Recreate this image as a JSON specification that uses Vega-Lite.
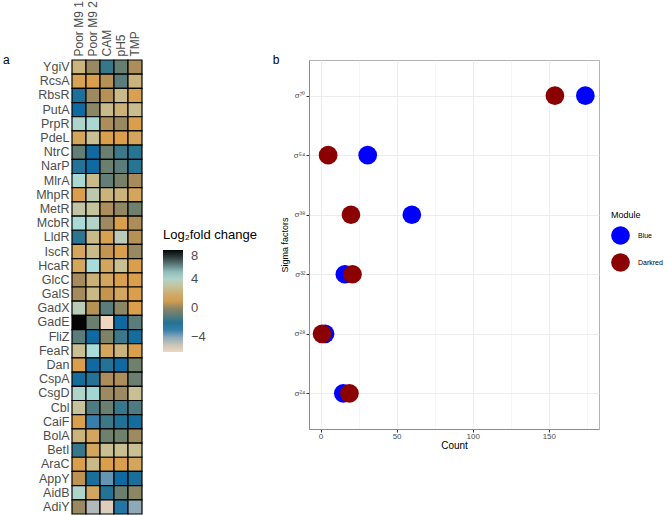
{
  "$schema": "https://vega.github.io/schema/vega-lite/v6.json",
  "padding": {"left": 2, "top": 0, "right": 2, "bottom": 0},
  "background": "white",
  "config": {"font": "Liberation Sans", "legend": {"labelFont": "Liberation Sans"}},
  "bounds": "flush",
  "spacing": 167,
  "resolve": {"scale": {"color": "independent"}, "legend": {"color": "independent"}},
  "datasets": {
    "heat": [
      {"tf":"YgiV","cond":"Poor M9 1","value":2.3},{"tf":"YgiV","cond":"Poor M9 2","value":0.2},{"tf":"YgiV","cond":"CAM","value":-1.6},{"tf":"YgiV","cond":"pH5","value":-0.7},{"tf":"YgiV","cond":"TMP","value":0.5},
      {"tf":"RcsA","cond":"Poor M9 1","value":1.3},{"tf":"RcsA","cond":"Poor M9 2","value":1.1},{"tf":"RcsA","cond":"CAM","value":0.6},{"tf":"RcsA","cond":"pH5","value":-1.0},{"tf":"RcsA","cond":"TMP","value":2.3},
      {"tf":"RbsR","cond":"Poor M9 1","value":-2.2},{"tf":"RbsR","cond":"Poor M9 2","value":0.3},{"tf":"RbsR","cond":"CAM","value":0.6},{"tf":"RbsR","cond":"pH5","value":2.6},{"tf":"RbsR","cond":"TMP","value":1.2},
      {"tf":"PutA","cond":"Poor M9 1","value":-2.6},{"tf":"PutA","cond":"Poor M9 2","value":0.0},{"tf":"PutA","cond":"CAM","value":2.6},{"tf":"PutA","cond":"pH5","value":2.2},{"tf":"PutA","cond":"TMP","value":2.7},
      {"tf":"PrpR","cond":"Poor M9 1","value":4.1},{"tf":"PrpR","cond":"Poor M9 2","value":4.3},{"tf":"PrpR","cond":"CAM","value":0.5},{"tf":"PrpR","cond":"pH5","value":0.2},{"tf":"PrpR","cond":"TMP","value":1.1},
      {"tf":"PdeL","cond":"Poor M9 1","value":1.5},{"tf":"PdeL","cond":"Poor M9 2","value":2.8},{"tf":"PdeL","cond":"CAM","value":1.1},{"tf":"PdeL","cond":"pH5","value":1.1},{"tf":"PdeL","cond":"TMP","value":1.5},
      {"tf":"NtrC","cond":"Poor M9 1","value":-0.8},{"tf":"NtrC","cond":"Poor M9 2","value":-2.6},{"tf":"NtrC","cond":"CAM","value":-0.6},{"tf":"NtrC","cond":"pH5","value":-1.5},{"tf":"NtrC","cond":"TMP","value":-1.9},
      {"tf":"NarP","cond":"Poor M9 1","value":-2.0},{"tf":"NarP","cond":"Poor M9 2","value":-2.6},{"tf":"NarP","cond":"CAM","value":-0.6},{"tf":"NarP","cond":"pH5","value":-1.0},{"tf":"NarP","cond":"TMP","value":-1.9},
      {"tf":"MlrA","cond":"Poor M9 1","value":4.3},{"tf":"MlrA","cond":"Poor M9 2","value":2.6},{"tf":"MlrA","cond":"CAM","value":-0.8},{"tf":"MlrA","cond":"pH5","value":-0.3},{"tf":"MlrA","cond":"TMP","value":0.4},
      {"tf":"MhpR","cond":"Poor M9 1","value":1.1},{"tf":"MhpR","cond":"Poor M9 2","value":3.4},{"tf":"MhpR","cond":"CAM","value":2.3},{"tf":"MhpR","cond":"pH5","value":2.3},{"tf":"MhpR","cond":"TMP","value":1.5},
      {"tf":"MetR","cond":"Poor M9 1","value":3.2},{"tf":"MetR","cond":"Poor M9 2","value":3.0},{"tf":"MetR","cond":"CAM","value":0.5},{"tf":"MetR","cond":"pH5","value":0.1},{"tf":"MetR","cond":"TMP","value":-0.5},
      {"tf":"McbR","cond":"Poor M9 1","value":4.4},{"tf":"McbR","cond":"Poor M9 2","value":4.0},{"tf":"McbR","cond":"CAM","value":0.3},{"tf":"McbR","cond":"pH5","value":1.1},{"tf":"McbR","cond":"TMP","value":0.5},
      {"tf":"LldR","cond":"Poor M9 1","value":-1.8},{"tf":"LldR","cond":"Poor M9 2","value":2.6},{"tf":"LldR","cond":"CAM","value":1.2},{"tf":"LldR","cond":"pH5","value":3.6},{"tf":"LldR","cond":"TMP","value":0.6},
      {"tf":"IscR","cond":"Poor M9 1","value":1.5},{"tf":"IscR","cond":"Poor M9 2","value":2.6},{"tf":"IscR","cond":"CAM","value":0.8},{"tf":"IscR","cond":"pH5","value":1.1},{"tf":"IscR","cond":"TMP","value":0.2},
      {"tf":"HcaR","cond":"Poor M9 1","value":1.5},{"tf":"HcaR","cond":"Poor M9 2","value":4.5},{"tf":"HcaR","cond":"CAM","value":1.6},{"tf":"HcaR","cond":"pH5","value":2.8},{"tf":"HcaR","cond":"TMP","value":1.1},
      {"tf":"GlcC","cond":"Poor M9 1","value":0.4},{"tf":"GlcC","cond":"Poor M9 2","value":2.2},{"tf":"GlcC","cond":"CAM","value":1.6},{"tf":"GlcC","cond":"pH5","value":1.1},{"tf":"GlcC","cond":"TMP","value":1.1},
      {"tf":"GalS","cond":"Poor M9 1","value":0.4},{"tf":"GalS","cond":"Poor M9 2","value":2.5},{"tf":"GalS","cond":"CAM","value":0.8},{"tf":"GalS","cond":"pH5","value":1.6},{"tf":"GalS","cond":"TMP","value":1.1},
      {"tf":"GadX","cond":"Poor M9 1","value":3.6},{"tf":"GadX","cond":"Poor M9 2","value":0.6},{"tf":"GadX","cond":"CAM","value":-1.0},{"tf":"GadX","cond":"pH5","value":0.0},{"tf":"GadX","cond":"TMP","value":1.1},
      {"tf":"GadE","cond":"Poor M9 1","value":8.0},{"tf":"GadE","cond":"Poor M9 2","value":-0.6},{"tf":"GadE","cond":"CAM","value":-6.0},{"tf":"GadE","cond":"pH5","value":-2.6},{"tf":"GadE","cond":"TMP","value":-1.0},
      {"tf":"FliZ","cond":"Poor M9 1","value":-1.0},{"tf":"FliZ","cond":"Poor M9 2","value":-2.6},{"tf":"FliZ","cond":"CAM","value":-0.2},{"tf":"FliZ","cond":"pH5","value":-1.5},{"tf":"FliZ","cond":"TMP","value":-2.4},
      {"tf":"FeaR","cond":"Poor M9 1","value":2.8},{"tf":"FeaR","cond":"Poor M9 2","value":4.5},{"tf":"FeaR","cond":"CAM","value":1.5},{"tf":"FeaR","cond":"pH5","value":2.3},{"tf":"FeaR","cond":"TMP","value":1.1},
      {"tf":"Dan","cond":"Poor M9 1","value":1.1},{"tf":"Dan","cond":"Poor M9 2","value":-2.6},{"tf":"Dan","cond":"CAM","value":-2.0},{"tf":"Dan","cond":"pH5","value":-2.6},{"tf":"Dan","cond":"TMP","value":-0.5},
      {"tf":"CspA","cond":"Poor M9 1","value":-2.4},{"tf":"CspA","cond":"Poor M9 2","value":-2.0},{"tf":"CspA","cond":"CAM","value":0.5},{"tf":"CspA","cond":"pH5","value":0.5},{"tf":"CspA","cond":"TMP","value":-0.6},
      {"tf":"CsgD","cond":"Poor M9 1","value":4.1},{"tf":"CsgD","cond":"Poor M9 2","value":4.6},{"tf":"CsgD","cond":"CAM","value":0.3},{"tf":"CsgD","cond":"pH5","value":0.3},{"tf":"CsgD","cond":"TMP","value":2.8},
      {"tf":"Cbl","cond":"Poor M9 1","value":3.0},{"tf":"Cbl","cond":"Poor M9 2","value":-1.2},{"tf":"Cbl","cond":"CAM","value":-0.6},{"tf":"Cbl","cond":"pH5","value":-1.6},{"tf":"Cbl","cond":"TMP","value":-1.2},
      {"tf":"CaiF","cond":"Poor M9 1","value":1.1},{"tf":"CaiF","cond":"Poor M9 2","value":-3.0},{"tf":"CaiF","cond":"CAM","value":-1.5},{"tf":"CaiF","cond":"pH5","value":-2.1},{"tf":"CaiF","cond":"TMP","value":-2.4},
      {"tf":"BolA","cond":"Poor M9 1","value":2.3},{"tf":"BolA","cond":"Poor M9 2","value":1.5},{"tf":"BolA","cond":"CAM","value":-0.5},{"tf":"BolA","cond":"pH5","value":-0.5},{"tf":"BolA","cond":"TMP","value":0.3},
      {"tf":"BetI","cond":"Poor M9 1","value":-1.6},{"tf":"BetI","cond":"Poor M9 2","value":1.5},{"tf":"BetI","cond":"CAM","value":2.8},{"tf":"BetI","cond":"pH5","value":2.8},{"tf":"BetI","cond":"TMP","value":2.8},
      {"tf":"AraC","cond":"Poor M9 1","value":1.1},{"tf":"AraC","cond":"Poor M9 2","value":2.5},{"tf":"AraC","cond":"CAM","value":1.1},{"tf":"AraC","cond":"pH5","value":1.1},{"tf":"AraC","cond":"TMP","value":1.5},
      {"tf":"AppY","cond":"Poor M9 1","value":0.7},{"tf":"AppY","cond":"Poor M9 2","value":-2.3},{"tf":"AppY","cond":"CAM","value":-3.5},{"tf":"AppY","cond":"pH5","value":-2.6},{"tf":"AppY","cond":"TMP","value":-2.3},
      {"tf":"AidB","cond":"Poor M9 1","value":4.1},{"tf":"AidB","cond":"Poor M9 2","value":1.6},{"tf":"AidB","cond":"CAM","value":-2.0},{"tf":"AidB","cond":"pH5","value":-0.6},{"tf":"AidB","cond":"TMP","value":0.0},
      {"tf":"AdiY","cond":"Poor M9 1","value":0.2},{"tf":"AdiY","cond":"Poor M9 2","value":-4.6},{"tf":"AdiY","cond":"CAM","value":-5.5},{"tf":"AdiY","cond":"pH5","value":-2.8},{"tf":"AdiY","cond":"TMP","value":-4.0}
    ],
    "sigma": [
      {"sigma":"σ⁷⁰","module":"Blue","count":174},
      {"sigma":"σ⁵⁴","module":"Blue","count":31},
      {"sigma":"σ³⁸","module":"Blue","count":60},
      {"sigma":"σ³²","module":"Blue","count":16},
      {"sigma":"σ²⁸","module":"Blue","count":3},
      {"sigma":"σ²⁴","module":"Blue","count":15},
      {"sigma":"σ⁷⁰","module":"Darkred","count":154},
      {"sigma":"σ⁵⁴","module":"Darkred","count":5},
      {"sigma":"σ³⁸","module":"Darkred","count":20},
      {"sigma":"σ³²","module":"Darkred","count":21},
      {"sigma":"σ²⁸","module":"Darkred","count":1},
      {"sigma":"σ²⁴","module":"Darkred","count":19}
    ]
  },
  "hconcat": [
    {
      "width": 70,
      "height": 454,
      "data": {"name": "heat"},
      "view": {"stroke": null},
      "title": {"text": "a", "orient": "left", "anchor": "end", "frame": "group", "angle": 0, "fontSize": 12, "fontWeight": "normal", "font": "Liberation Sans", "color": "#000", "offset": 26, "baseline": "middle", "align": "left"},
      "mark": {"type": "rect", "stroke": "#000000", "strokeWidth": 1.2},
      "encoding": {
        "x": {"field": "cond", "type": "nominal", "sort": ["Poor M9 1","Poor M9 2","CAM","pH5","TMP"],
              "scale": {"paddingInner": 0, "paddingOuter": 0},
              "axis": {"orient": "top", "title": null, "labelAngle": -90, "domain": false, "ticks": false, "labelPadding": 4,
                       "labelFont": "Liberation Sans", "labelFontSize": 12, "labelColor": "#4d4d4d"}},
        "y": {"field": "tf", "type": "nominal",
              "sort": ["YgiV","RcsA","RbsR","PutA","PrpR","PdeL","NtrC","NarP","MlrA","MhpR","MetR","McbR","LldR","IscR","HcaR","GlcC","GalS","GadX","GadE","FliZ","FeaR","Dan","CspA","CsgD","Cbl","CaiF","BolA","BetI","AraC","AppY","AidB","AdiY"],
              "scale": {"paddingInner": 0, "paddingOuter": 0},
              "axis": {"title": null, "domain": false, "ticks": false, "labelPadding": 3,
                       "labelFont": "Liberation Sans", "labelFontSize": 12.5, "labelColor": "#4d4d4d"}},
        "color": {"field": "value", "type": "quantitative",
                  "scale": {"domain": [-6,-5,-4,-3.2,-2.6,-1.8,-1.0,-0.3,0.3,0.8,1.1,2.0,2.8,3.5,4.5,6.0,7.0,8.0],
                            "range": ["#efd6bf","#c8c4b8","#8eaab8","#4a8ab0","#0e6aa0","#2b7591","#5a7d7b","#788168","#9e8a60","#c49550","#d99f4d","#cdac6e","#c8bf92","#bccab4","#a7dcd9","#5e7c7c","#2e3d3d","#050505"],
                            "interpolate": "rgb"},
                  "legend": {"title": "Log₂fold change", "orient": "none", "legendX": 91, "legendY": 169,
                             "gradientLength": 102, "gradientThickness": 20, "gradientStrokeWidth": 0,
                             "values": [-4, 0, 4, 8], "titleFont": "Liberation Sans", "titleFontSize": 13, "titleFontWeight": "normal", "titleColor": "#000",
                             "labelFont": "Liberation Sans", "labelFontSize": 13, "labelColor": "#4d4d4d", "labelOffset": 8, "titlePadding": 8}}
      }
    },
    {
      "width": 290,
      "height": 369,
      "data": {"name": "sigma"},
      "view": {"stroke": "#b3b3b3"},
      "title": {"text": "b", "orient": "left", "anchor": "end", "frame": "group", "angle": 0, "fontSize": 12, "fontWeight": "normal", "font": "Liberation Sans", "color": "#000", "offset": 1, "baseline": "middle", "align": "left"},
      "mark": {"type": "point", "filled": true, "opacity": 1, "shape": "circle", "size": 350},
      "encoding": {
        "x": {"field": "count", "type": "quantitative",
              "scale": {"domain": [-7.56, 182.96], "nice": false, "zero": false},
              "axis": {"title": "Count", "titleFontSize": 10, "titleFontWeight": "normal", "titleColor": "#000", "titlePadding": 0,
                       "values": [0,25,50,75,100,125,150,175],
                       "labelExpr": "datum.value % 50 == 0 ? datum.label : ''",
                       "labelFontSize": 8, "labelColor": "#4d4d4d", "labelPadding": 0,
                       "tickSize": 3, "tickColor": "#333333",
                       "tickOpacity": {"condition": {"test": "datum.value % 50 == 0", "value": 1}, "value": 0},
                       "grid": true, "gridColor": "#ebebeb",
                       "gridWidth": {"condition": {"test": "datum.value % 50 == 0", "value": 0.9}, "value": 0.45},
                       "domainColor": "#8c8c8c"}},
        "y": {"field": "sigma", "type": "nominal",
              "sort": ["σ⁷⁰","σ⁵⁴","σ³⁸","σ³²","σ²⁸","σ²⁴"],
              "scale": {"type": "point", "padding": 0.6},
              "axis": {"title": "Sigma factors", "titleFontSize": 9, "titleFontWeight": "normal", "titleColor": "#000", "titlePadding": 4,
                       "labelFontSize": 8, "labelColor": "#4d4d4d", "labelPadding": 1, "tickSize": 3, "tickColor": "#333333",
                       "grid": true, "gridColor": "#ebebeb", "gridWidth": 0.9, "domainColor": "#8c8c8c"}},
        "color": {"field": "module", "type": "nominal",
                  "scale": {"domain": ["Blue","Darkred"], "range": ["#0000ff","#8b0000"]},
                  "legend": {"title": "Module", "orient": "none", "legendX": 302, "legendY": 151,
                             "titleFontSize": 9, "titleFontWeight": "normal", "titleColor": "#000", "titlePadding": 6,
                             "symbolSize": 350, "symbolType": "circle", "symbolStrokeWidth": 0, "symbolOpacity": 1,
                             "labelFontSize": 7, "labelColor": "#000", "labelOffset": 8, "rowPadding": 8}}
      }
    }
  ]
}
